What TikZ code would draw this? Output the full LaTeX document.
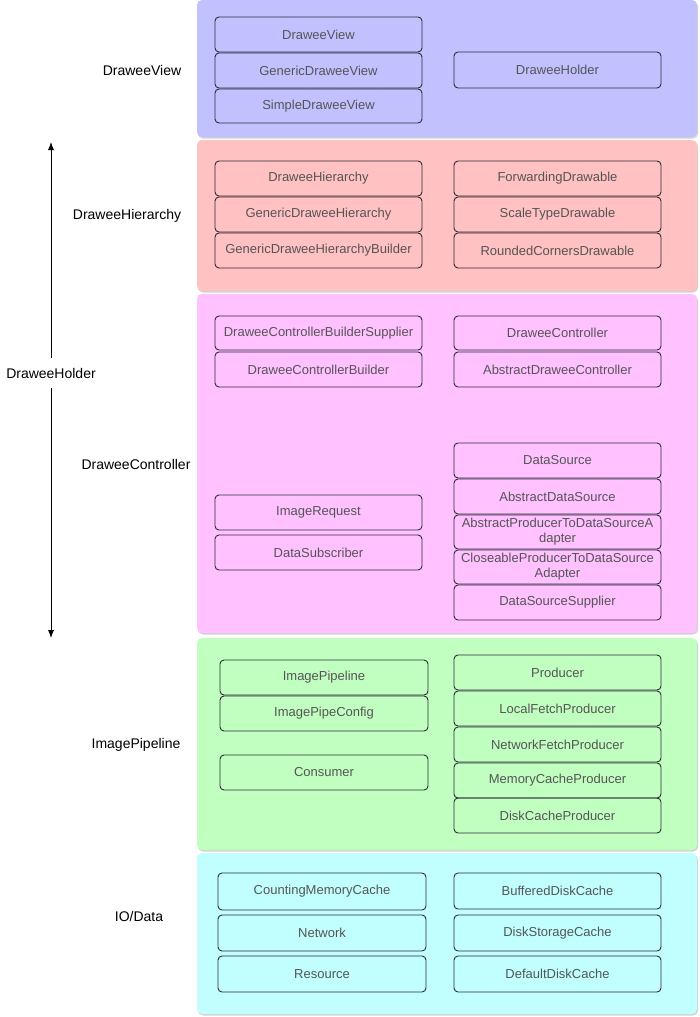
\documentclass[tikz,border=0pt]{standalone}
\usepackage{fontspec}
\setmainfont{Liberation Sans}
\usetikzlibrary{arrows.meta}
\definecolor{pv}{RGB}{193,193,255}
\definecolor{ph}{RGB}{255,193,193}
\definecolor{pc}{RGB}{255,193,255}
\definecolor{pp}{RGB}{193,255,193}
\definecolor{pd}{RGB}{193,255,255}
\definecolor{boxtext}{RGB}{85,85,85}
\definecolor{boxline}{RGB}{45,45,55}
\begin{document}
\begin{tikzpicture}[x=1pt,y=-1pt,
  box/.style={draw=boxline,line width=0.9pt,rounded corners=4pt,inner sep=0pt,outer sep=0pt,
     text=boxtext,font=\fontsize{13}{15}\selectfont,align=center},
  lbl/.style={font=\fontsize{14}{16}\selectfont,text=black,inner sep=1pt},
  panel/.style={rounded corners=5pt,draw=none},
  holdarrow/.style={-{Latex[length=8pt,width=6pt]},line width=0.8pt}]
\newcommand\mybox[6]{\node[box,minimum width={(#4-#2)*1pt},minimum height={(#5-#3)*1pt}] (#1) at ({(#2+#4)/2},{(#3+#5)/2}) {#6};}
\newcommand\mypanel[6]{%
  \fill[gray!35,rounded corners=5pt] (#2+1,#3+1.5) rectangle (#4+1,#5+1.5);
  \path[panel,fill=#6] (#2,#3) rectangle (#4,#5) coordinate (#1);}
\useasboundingbox (0,0) rectangle (700,1017);
\fill[white] (0,0) rectangle (700,1017);
% panels
\mypanel{pV}{197}{0}{697}{137}{pv}
\mypanel{pH}{197}{140}{697}{291}{ph}
\mypanel{pC}{197}{294}{697}{633}{pc}
\mypanel{pP}{197}{638}{697}{850}{pp}
\mypanel{pD}{197}{853}{697}{1014}{pd}
% DraweeView
\mybox{dv}{215}{17}{422}{52}{DraweeView}
\mybox{gdv}{215}{53}{422}{88}{GenericDraweeView}
\mybox{sdv}{215}{89}{422}{123}{SimpleDraweeView}
\mybox{dh}{454}{52}{661}{88}{DraweeHolder}
% DraweeHierarchy
\mybox{dhi}{215}{161}{422}{196}{DraweeHierarchy}
\mybox{gdh}{215}{197}{422}{232}{GenericDraweeHierarchy}
\mybox{gdhb}{215}{233}{422}{268}{GenericDraweeHierarchyBuilder}
\mybox{fd}{454}{161}{661}{196}{ForwardingDrawable}
\mybox{std}{454}{197}{661}{232}{ScaleTypeDrawable}
\mybox{rcd}{454}{233}{661}{268}{RoundedCornersDrawable}
% DraweeController
\mybox{dcbs}{215}{316}{422}{350}{DraweeControllerBuilderSupplier}
\mybox{dcb}{215}{352}{422}{387}{DraweeControllerBuilder}
\mybox{dc}{454}{316}{661}{350}{DraweeController}
\mybox{adc}{454}{352}{661}{387}{AbstractDraweeController}
\mybox{ds}{454}{443}{661}{478}{DataSource}
\mybox{ads}{454}{479}{661}{514}{AbstractDataSource}
\mybox{aptd}{454}{515}{661}{549}{AbstractProducerToDataSourceA\\dapter}
\mybox{cptd}{454}{550}{661}{584}{CloseableProducerToDataSource\\Adapter}
\mybox{dss}{454}{585}{661}{620}{DataSourceSupplier}
\mybox{ir}{215}{495}{422}{530}{ImageRequest}
\mybox{dsub}{215}{535}{422}{570}{DataSubscriber}
% ImagePipeline
\mybox{ip}{220}{660}{428}{695}{ImagePipeline}
\mybox{ipc}{220}{696}{428}{731}{ImagePipeConfig}
\mybox{con}{220}{755}{428}{790}{Consumer}
\mybox{pr}{454}{655}{661}{690}{Producer}
\mybox{lfp}{454}{691}{661}{726}{LocalFetchProducer}
\mybox{nfp}{454}{727}{661}{762}{NetworkFetchProducer}
\mybox{mcp}{454}{763}{661}{798}{MemoryCacheProducer}
\mybox{dcp}{454}{798}{661}{833}{DiskCacheProducer}
% IO/Data
\mybox{cmc}{218}{873}{426}{910}{CountingMemoryCache}
\mybox{net}{218}{915}{426}{951}{Network}
\mybox{res}{218}{956}{426}{992}{Resource}
\mybox{bdc}{454}{873}{661}{909}{BufferedDiskCache}
\mybox{dsc}{454}{915}{661}{951}{DiskStorageCache}
\mybox{ddc}{454}{956}{661}{992}{DefaultDiskCache}
% labels
\node[lbl] (lV) at (142,70) {DraweeView};
\node[lbl] (lH) at (127,216) {DraweeHierarchy};
\node[lbl] (lC) at (136,464) {DraweeController};
\node[lbl] (lP) at (136,745) {ImagePipeline};
\node[lbl] (lD) at (139,916) {IO/Data};
\node[lbl,inner sep=0pt,minimum height=30pt] (lHold) at (51,373) {DraweeHolder};
\coordinate (aTop) at (51,142);
\coordinate (aBot) at (51,638);
\draw[holdarrow] (lHold.north) -- (aTop);
\draw[holdarrow] (lHold.south) -- (aBot);
\end{tikzpicture}
\end{document}
